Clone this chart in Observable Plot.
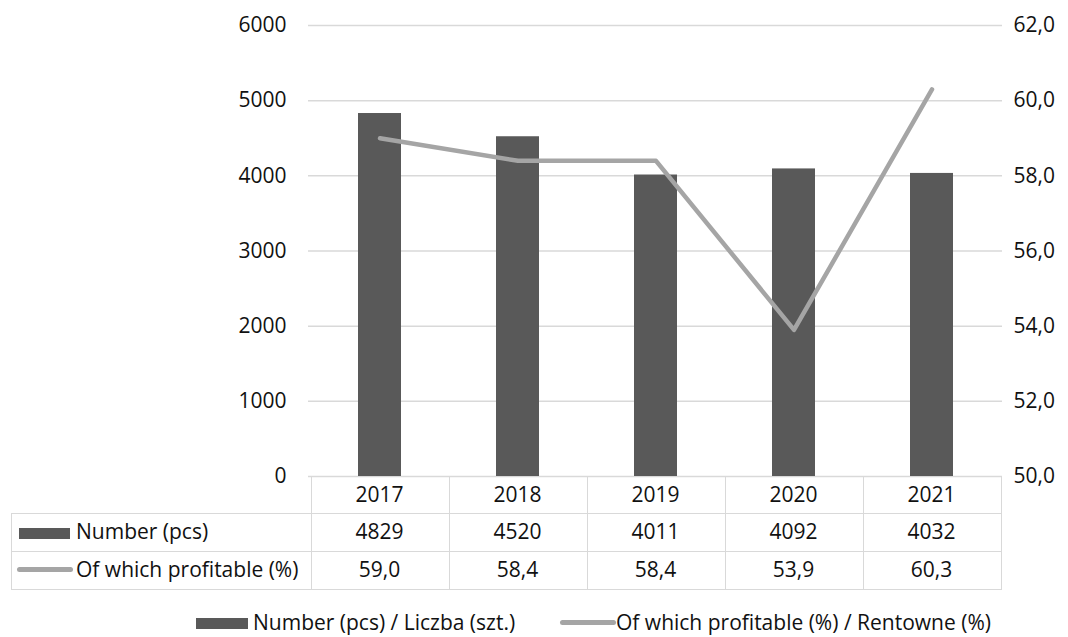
<!DOCTYPE html>
<html>
<head>
<meta charset="utf-8">
<script src="https://cdn.jsdelivr.net/npm/d3@7"></script>
<script src="https://cdn.jsdelivr.net/npm/@observablehq/plot@0.6"></script>
<style>
  html, body { margin: 0; padding: 0; background: #fff; }
  #wrap { position: relative; width: 1068px; height: 637px; font-family: "Open Sans", sans-serif; color: #111; overflow: hidden; }
  #chart { position: absolute; left: 0; top: 0; }
  .cell { position: absolute; box-sizing: border-box; display: flex; align-items: center; justify-content: center; font-size: 21px; line-height: 1.2; }
  .hline { position: absolute; height: 0; border-top: 1.5px solid #d9d9d9; }
  .vline { position: absolute; width: 0; border-left: 1.5px solid #d9d9d9; }
  .lbl { position: absolute; font-size: 21px; line-height: 1.2; white-space: nowrap; }
  .lgd { position: absolute; font-size: 21px; line-height: 20px; height: 20px; white-space: nowrap; }
  .sw-bar { position: absolute; background: #595959; }
  .sw-line { position: absolute; background: #a5a5a5; border-radius: 3px; }
</style>
</head>
<body>
<div id="wrap"><div id="chart"></div><div id="table"></div><div id="legend"></div></div>
<script>
// ---- data ----
const years = ["2017", "2018", "2019", "2020", "2021"];
const counts = [4829, 4520, 4011, 4092, 4032];
const profitable = [59.0, 58.4, 58.4, 53.9, 60.3];
const leftTicks = [0, 1000, 2000, 3000, 4000, 5000, 6000];
const rightTicks = [50, 52, 54, 56, 58, 60, 62];
const seriesNames = ["Number (pcs)", "Of which profitable (%)"];
const legendNames = ["Number (pcs) / Liczba (szt.)", "Of which profitable (%) / Rentowne (%)"];

const leftDomain = [0, 6000];
const rightDomain = [50, 62];
const toLeft = v => (v - rightDomain[0]) / (rightDomain[1] - rightDomain[0]) * (leftDomain[1] - leftDomain[0]) + leftDomain[0];
const fromLeft = d => rightDomain[0] + (d - leftDomain[0]) / (leftDomain[1] - leftDomain[0]) * (rightDomain[1] - rightDomain[0]);
const fmtPct = v => v.toFixed(1).replace(".", ",");

const data = years.map((y, i) => ({year: y, count: counts[i], pct: profitable[i]}));

const BAR = "#595959", LINE = "#a5a5a5", GRID = "#d9d9d9";

const chart = Plot.plot({
  width: 1068,
  height: 500,
  marginTop: 25,
  marginBottom: 24,
  marginLeft: 308,
  marginRight: 66,
  style: {fontFamily: "Open Sans, sans-serif", fontSize: "21px", color: "#111", background: "transparent"},
  x: {domain: years, paddingInner: 0.69, paddingOuter: 0.345, axis: null},
  y: {domain: leftDomain, axis: null},
  marks: [
    Plot.gridY(leftTicks, {stroke: GRID, strokeOpacity: 1, strokeWidth: 1.5}),
    Plot.barY(data, {x: "year", y: "count", fill: BAR}),
    Plot.line(data, {x: "year", y: d => toLeft(d.pct), stroke: LINE, strokeWidth: 4.5, strokeLinecap: "round", strokeLinejoin: "round"}),
    Plot.axisY(leftTicks, {anchor: "left", label: null, tickSize: 0, tickPadding: 22, fontSize: 21, tickFormat: d => String(d)}),
    Plot.axisY(rightTicks.map(toLeft), {anchor: "right", label: null, tickSize: 0, tickPadding: 11, fontSize: 21, tickFormat: d => fmtPct(fromLeft(d))})
  ]
});
document.getElementById("chart").appendChild(chart);

// ---- data table, aligned to the x band scale ----
const xs = chart.scale("x");
const step = xs.step !== undefined ? xs.step : (xs.range[1] - xs.range[0]) / years.length;
const bw = xs.bandwidth;
const colLeft = y => xs.apply(y) - (step - bw) / 2;
const x0 = colLeft(years[0]);
const x1 = colLeft(years[years.length - 1]) + step;
const ys = chart.scale("y");
const top0 = ys.apply(0);
const rowH = [37, 38, 38];
const rowTop = [top0, top0 + rowH[0], top0 + rowH[0] + rowH[1]];
const bottom = rowTop[2] + rowH[2];
const tableLeft = 11;
const table = document.getElementById("table");
function add(cls, style, text) {
  const d = document.createElement("div");
  d.className = cls;
  Object.assign(d.style, style);
  if (text !== undefined) d.textContent = text;
  table.appendChild(d);
  return d;
}
// horizontal lines
add("hline", {left: x0 + "px", top: rowTop[0] + "px", width: (x1 - x0) + "px"});
add("hline", {left: tableLeft + "px", top: rowTop[1] + "px", width: (x1 - tableLeft) + "px"});
add("hline", {left: tableLeft + "px", top: rowTop[2] + "px", width: (x1 - tableLeft) + "px"});
add("hline", {left: tableLeft + "px", top: bottom + "px", width: (x1 - tableLeft + 1) + "px"});
// vertical lines
add("vline", {left: tableLeft + "px", top: rowTop[1] + "px", height: (bottom - rowTop[1]) + "px"});
years.forEach(y => add("vline", {left: colLeft(y) + "px", top: rowTop[0] + "px", height: (bottom - rowTop[0]) + "px"}));
add("vline", {left: x1 + "px", top: rowTop[0] + "px", height: (bottom - rowTop[0]) + "px"});
// cells
years.forEach((y, i) => {
  const l = colLeft(y);
  add("cell", {left: l + "px", top: rowTop[0] + "px", width: step + "px", height: rowH[0] + "px"}, y);
  add("cell", {left: l + "px", top: rowTop[1] + "px", width: step + "px", height: rowH[1] + "px"}, String(counts[i]));
  add("cell", {left: l + "px", top: rowTop[2] + "px", width: step + "px", height: rowH[2] + "px"}, fmtPct(profitable[i]));
});
// row labels with keys
add("sw-bar", {left: "19px", top: (rowTop[1] + 15) + "px", width: "51px", height: "11px"});
add("lbl", {left: "76px", top: (rowTop[1] + 6) + "px"}, seriesNames[0]);
add("sw-line", {left: "17px", top: (rowTop[2] + 16) + "px", width: "56px", height: "5px"});
add("lbl", {left: "76px", top: (rowTop[2] + 6) + "px"}, seriesNames[1]);

// ---- legend ----
const legend = document.getElementById("legend");
function addL(cls, style, text) {
  const d = document.createElement("div");
  d.className = cls;
  Object.assign(d.style, style);
  if (text !== undefined) d.textContent = text;
  legend.appendChild(d);
}
addL("sw-bar", {left: "196px", top: "618px", width: "52px", height: "11px"});
addL("lgd", {left: "253px", top: "612px"}, legendNames[0]);
addL("sw-line", {left: "560px", top: "620px", width: "56px", height: "5px"});
addL("lgd", {left: "616px", top: "612px"}, legendNames[1]);
</script>
</body>
</html>
